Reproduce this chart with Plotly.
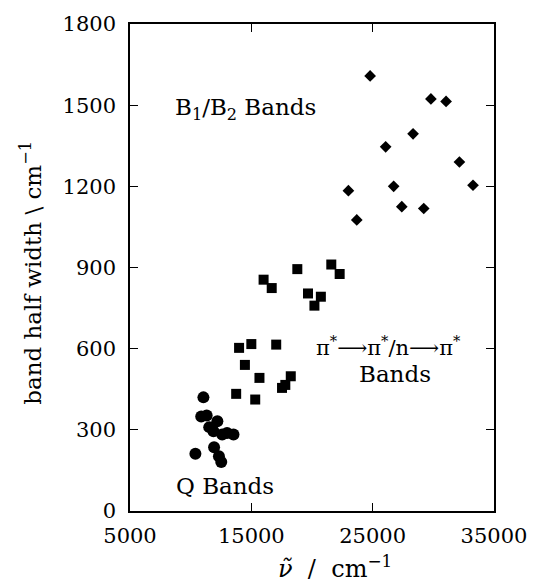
import plotly.graph_objects as go

# Q bands (circles)
q_x = [11050, 10870, 11320, 12200, 11530, 11880, 12600, 13000, 13530, 10390, 11930, 12330, 12520]
q_y = [420, 349, 353, 332, 310, 295, 283, 288, 283, 212, 236, 202, 181]

# pi*->pi* / n->pi* bands (squares)
p_x = [16010, 16680, 18790, 19670, 20200, 20730, 21590, 22280, 13990, 15000, 17050,
       14470, 15670, 13750, 15320, 17530, 17800, 18250]
p_y = [855, 824, 894, 804, 759, 792, 911, 876, 603, 617, 615,
       540, 492, 433, 412, 455, 466, 498]

# B1/B2 bands (diamonds)
b_x = [24790, 29800, 31050, 28330, 26070, 32150, 26730, 33270, 23000, 27400, 29210, 23690]
b_y = [1608, 1523, 1514, 1394, 1346, 1290, 1200, 1204, 1184, 1125, 1118, 1076]

x_ticks = [5000, 15000, 25000, 35000]
y_ticks = [0, 300, 600, 900, 1200, 1500, 1800]

FONT = "DejaVu Serif"

fig = go.Figure()
fig.add_trace(go.Scatter(x=q_x, y=q_y, mode="markers",
                         marker=dict(symbol="circle", size=12, color="black", line=dict(width=0))))
fig.add_trace(go.Scatter(x=p_x, y=p_y, mode="markers",
                         marker=dict(symbol="square", size=10, color="black", line=dict(width=0))))
fig.add_trace(go.Scatter(x=b_x, y=b_y, mode="markers",
                         marker=dict(symbol="diamond", size=9, color="black", line=dict(width=0))))

axis_common = dict(showline=True, linecolor="black", linewidth=1.5, mirror="ticks",
                   ticks="inside", ticklen=8, tickwidth=1.3, tickcolor="black",
                   showgrid=False, zeroline=False,
                   tickfont=dict(family=FONT, size=21, color="black"))

fig.update_xaxes(range=[5000, 35000], tickvals=x_ticks, ticktext=[str(v) for v in x_ticks],
                 ticklabelstandoff=5, **axis_common)
fig.update_yaxes(range=[0, 1800], tickvals=y_ticks, ticktext=[str(v) for v in y_ticks],
                 ticklabelstandoff=8, **axis_common)

ann_font = dict(family=FONT, size=23, color="black")
fig.update_layout(
    width=539, height=583, autosize=False,
    margin=dict(l=130, r=34, t=22, b=72),
    plot_bgcolor="white", paper_bgcolor="white",
    showlegend=False,
    annotations=[
        dict(text="B<sub>1</sub>/B<sub>2</sub> Bands", x=14500, y=1485, xref="x", yref="y",
             showarrow=False, font=ann_font, xanchor="center", yanchor="middle"),
        dict(text="π<sup>*</sup>⟶π<sup>*</sup>/n⟶π<sup>*</sup>", x=26280, y=611, xref="x", yref="y",
             showarrow=False, font=dict(family=FONT, size=21, color="black"),
             xanchor="center", yanchor="middle"),
        dict(text="Bands", x=26840, y=508, xref="x", yref="y",
             showarrow=False, font=ann_font, xanchor="center", yanchor="middle"),
        dict(text="Q Bands", x=12800, y=92, xref="x", yref="y",
             showarrow=False, font=ann_font, xanchor="center", yanchor="middle"),
        dict(text="band half width \\ cm<sup>−1</sup>", x=-0.271, y=0.49, xref="paper", yref="paper",
             showarrow=False, textangle=-90, font=dict(family=FONT, size=23, color="black"),
             xanchor="center", yanchor="middle"),
        dict(text="<i>ν̃</i>\u00a0 / \u00a0cm<sup>−1</sup>", x=0.563, y=-0.115, xref="paper", yref="paper",
             showarrow=False, font=dict(family=FONT, size=24, color="black"),
             xanchor="center", yanchor="middle"),
    ],
)

fig.write_html("out.html")
